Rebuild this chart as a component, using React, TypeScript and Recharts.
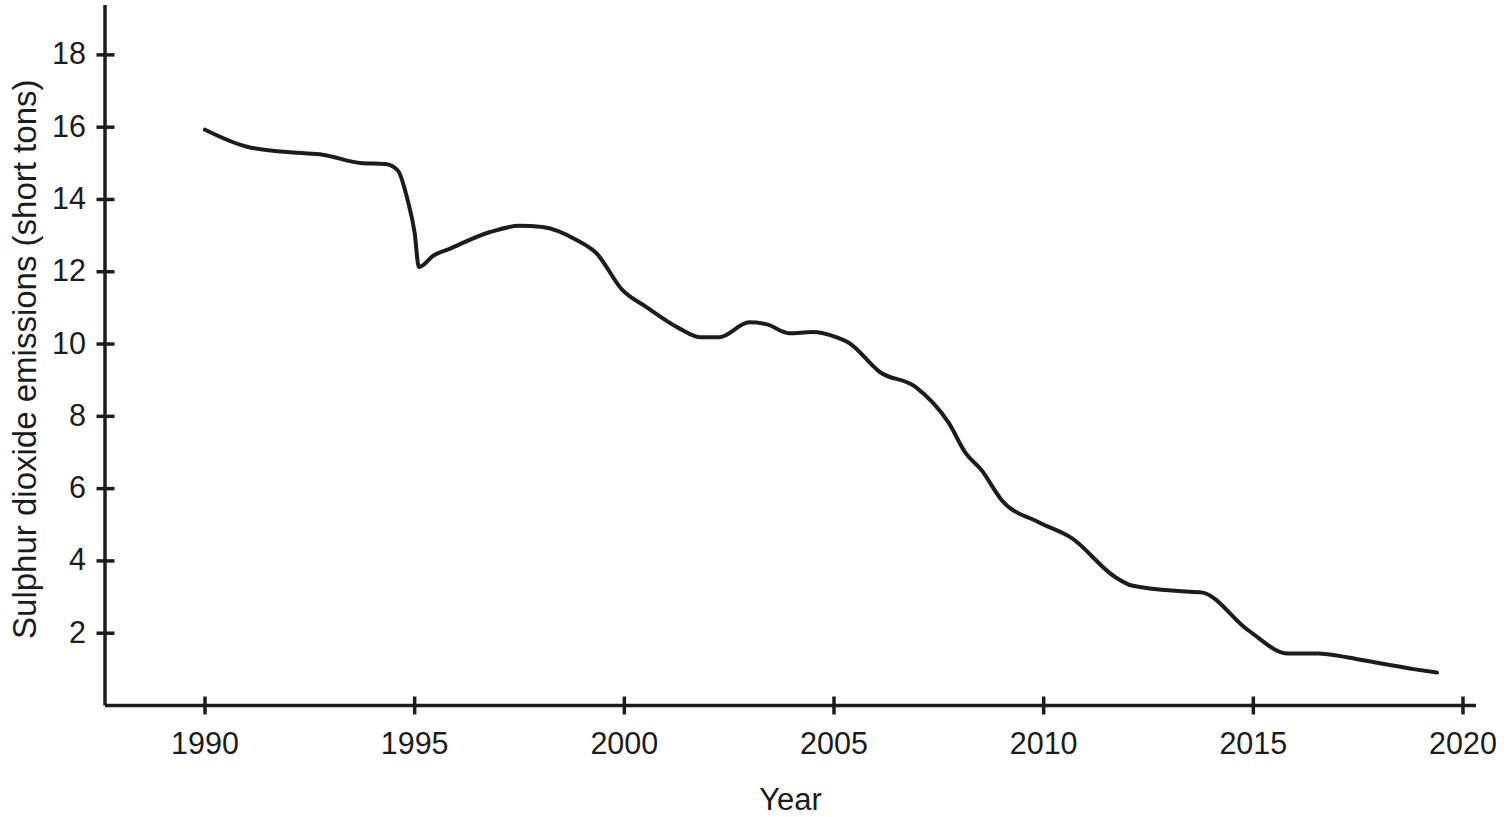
import { LineChart, Line, XAxis, YAxis } from 'recharts';

const years = [
  1990.0, 1991.0, 1992.2, 1992.8, 1993.7, 1994.3, 1994.6, 1994.83, 1995.0, 1995.1,
  1995.45, 1995.8, 1996.8, 1997.5, 1998.05, 1998.86, 1999.33, 1999.95, 2000.52, 2001.3,
  2001.8, 2002.26, 2002.98, 2003.38, 2003.93, 2004.48, 2005.05, 2005.36, 2006.1, 2006.95,
  2007.74, 2008.14, 2008.52, 2009.0, 2009.88, 2010.67, 2011.71, 2012.1, 2013.29, 2013.76,
  2014.88, 2015.83, 2016.55, 2017.26, 2018.05, 2018.86, 2019.38,
];
const emissions = [
  15.93, 15.46, 15.29, 15.24, 15.01, 14.98, 14.8, 13.99, 13.07, 12.13,
  12.45, 12.62, 13.1, 13.27, 13.24, 12.88, 12.52, 11.5, 11.03, 10.44,
  10.19, 10.19, 10.6, 10.55, 10.3, 10.33, 10.19, 10.03, 9.22, 8.81,
  7.81, 6.98, 6.51, 5.68, 5.07, 4.63, 3.55, 3.32, 3.16, 3.13,
  2.08, 1.44, 1.44, 1.33, 1.16, 1.0, 0.91,
];
const xTicks = [1990, 1995, 2000, 2005, 2010, 2015, 2020];
const yTicks = [2, 4, 6, 8, 10, 12, 14, 16, 18];

const data = years.map((year, i) => ({ year, value: emissions[i] }));

const INK = '#1c1c1c';
const FONT = '"Liberation Sans", Arial, Helvetica, sans-serif';

// ticks cross the axis line, so they are drawn here instead of by tickLine
function XTick(props: any) {
  const { x, y, payload } = props;
  return (
    <g>
      <line x1={x} x2={x} y1={y - 9} y2={y + 9} stroke={INK} strokeWidth={3.5} />
      <text x={x} y={y + 48.5} textAnchor="middle" fill={INK} fontSize={30.5} fontFamily={FONT}>
        {payload.value}
      </text>
    </g>
  );
}

function YTick(props: any) {
  const { x, y, payload } = props;
  return (
    <g>
      <line x1={x - 8.5} x2={x + 9.5} y1={y} y2={y} stroke={INK} strokeWidth={3.5} />
      <text x={x - 19} y={y + 9.5} textAnchor="end" fill={INK} fontSize={30.5} fontFamily={FONT}>
        {payload.value}
      </text>
    </g>
  );
}

function XTitle(props: any) {
  const vb = props.viewBox;
  return (
    <text x={vb.x + vb.width / 2} y={vb.y + 104} textAnchor="middle" fill={INK} fontSize={31} fontFamily={FONT}>
      Year
    </text>
  );
}

function YTitle(props: any) {
  const vb = props.viewBox;
  const cx = vb.x + 36;
  const cy = vb.y + vb.height / 2 + 4;
  return (
    <text
      x={cx}
      y={cy}
      transform={`rotate(-90 ${cx} ${cy})`}
      textAnchor="middle"
      fill={INK}
      fontSize={33}
      fontFamily={FONT}
    >
      Sulphur dioxide emissions (short tons)
    </text>
  );
}

export default function App() {
  return (
    <div style={{ position: 'absolute', left: 0, top: 0, background: '#fff' }}>
      <LineChart width={1508} height={817} data={data} margin={{ top: 5, right: 32, bottom: 0, left: 0 }}>
        <XAxis
          dataKey="year"
          type="number"
          domain={[1987.615, 2020.31]}
          ticks={xTicks}
          allowDataOverflow
          height={111.5}
          axisLine={{ stroke: INK, strokeWidth: 3.5 }}
          tickLine={false}
          tickSize={0}
          tickMargin={0}
          tick={<XTick />}
          label={<XTitle />}
        />
        <YAxis
          type="number"
          domain={[0, 19.38]}
          ticks={yTicks}
          allowDataOverflow
          width={105}
          axisLine={{ stroke: INK, strokeWidth: 3.5 }}
          tickLine={false}
          tickSize={0}
          tickMargin={0}
          tick={<YTick />}
          label={<YTitle />}
        />
        <Line
          type="monotone"
          dataKey="value"
          stroke={INK}
          strokeWidth={4}
          dot={false}
          isAnimationActive={false}
          strokeLinejoin="round"
          strokeLinecap="round"
        />
      </LineChart>
    </div>
  );
}
